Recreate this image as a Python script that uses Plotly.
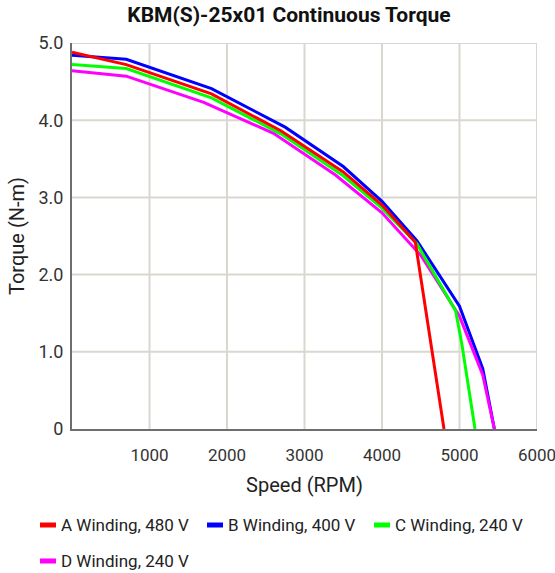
import plotly.graph_objects as go

# ---- data ----
series_names = ["A Winding, 480 V", "B Winding, 400 V", "C Winding, 240 V", "D Winding, 240 V"]
series_colors = ["#ff0000", "#0000ff", "#00ff00", "#ff00ff"]

a_speed = [0, 700, 1800, 2700, 3500, 4000, 4430, 4800]
a_torque = [4.88, 4.72, 4.34, 3.86, 3.33, 2.90, 2.42, 0.0]

b_speed = [0, 700, 1800, 2750, 3500, 4000, 4450, 5000, 5300, 5450]
b_torque = [4.84, 4.79, 4.41, 3.91, 3.40, 2.95, 2.44, 1.59, 0.78, 0.0]

c_speed = [0, 700, 1800, 2700, 3500, 4000, 4450, 4950, 5030, 5200]
c_torque = [4.72, 4.67, 4.29, 3.82, 3.28, 2.86, 2.40, 1.53, 1.10, 0.0]

d_speed = [0, 700, 1700, 2600, 3400, 4000, 4500, 5000, 5300, 5450]
d_torque = [4.64, 4.57, 4.23, 3.83, 3.29, 2.80, 2.25, 1.46, 0.70, 0.0]

x_tickvals = [1000, 2000, 3000, 4000, 5000, 6000]
x_ticktext = ["1000", "2000", "3000", "4000", "5000", "6000"]
y_tickvals = [0, 1, 2, 3, 4, 5]
y_ticktext = ["0", "1.0", "2.0", "3.0", "4.0", "5.0"]

title_text = "KBM(S)-25x01 Continuous Torque"
x_title = "Speed (RPM)"
y_title = "Torque (N-m)"

FONT = "Roboto, sans-serif"
GRID = "#d9d7d0"

series = [
    (a_speed, a_torque),
    (b_speed, b_torque),
    (c_speed, c_torque),
    (d_speed, d_torque),
]
draw_order = [1, 3, 2, 0]

fig = go.Figure()
for i in draw_order:
    sx, sy = series[i]
    fig.add_trace(go.Scatter(
        x=sx, y=sy, mode="lines", name=series_names[i],
        line=dict(color=series_colors[i], width=3),
        showlegend=False, hoverinfo="skip",
    ))

W, H = 555, 573
ml, mr, mt, mb = 72, 18, 43, 144
pw, ph = W - ml - mr, H - mt - mb
def px2paper_x(px):
    return (px - ml) / pw
def px2paper_y(py):
    return (H - mb - py) / ph

shapes = []
annotations = []

# grid lines at the tick values
for xv in x_tickvals:
    shapes.append(dict(type="line", xref="x", yref="paper", x0=xv, x1=xv, y0=0, y1=1,
                       line=dict(color=GRID, width=2), layer="below"))
for yv in y_tickvals[1:]:
    shapes.append(dict(type="line", xref="paper", yref="y", x0=0, x1=1, y0=yv, y1=yv,
                       line=dict(color=GRID, width=2), layer="below"))

# manual legend
legend_pos = [(40, 525), (207, 525), (374, 525), (40, 561)]
for (lx, ly), name, col in zip(legend_pos, series_names, series_colors):
    shapes.append(dict(type="line", xref="paper", yref="paper",
                       x0=px2paper_x(lx), x1=px2paper_x(lx + 16),
                       y0=px2paper_y(ly), y1=px2paper_y(ly),
                       line=dict(color=col, width=5)))
    annotations.append(dict(xref="paper", yref="paper",
                            x=px2paper_x(lx + 19), y=px2paper_y(ly),
                            xanchor="left", yanchor="middle", showarrow=False,
                            text=name, font=dict(family=FONT, size=17, color="#222222")))

fig.update_layout(
    template="none",
    width=W, height=H,
    margin=dict(l=ml, r=mr, t=mt, b=mb, pad=0),
    paper_bgcolor="white", plot_bgcolor="white",
    title=dict(text="<b>" + title_text + "</b>", x=289 / W, xref="container",
               xanchor="center", y=1 - 15 / H, yref="container", yanchor="middle",
               font=dict(family=FONT, size=21, color="#111111")),
    font=dict(family=FONT, size=17, color="#333333"),
    shapes=shapes, annotations=annotations,
    showlegend=False,
)
fig.update_xaxes(
    range=[0, 6000], tickvals=x_tickvals, ticktext=x_ticktext, automargin=False,
    showgrid=False,
    showline=True, linecolor="#6e6e6e", linewidth=2,
    zeroline=False, ticks="", ticklabelstandoff=10, ticklabeloverflow="allow",
    title=dict(text=x_title, standoff=14, font=dict(family=FONT, size=20, color="#222222")),
    tickfont=dict(family=FONT, size=17, color="#333333"),
)
fig.update_yaxes(
    range=[0, 5], tickvals=y_tickvals, ticktext=y_ticktext, automargin=False,
    showgrid=False,
    showline=True, linecolor="#6e6e6e", linewidth=2,
    zeroline=False, ticks="", ticklabelstandoff=3, ticklabeloverflow="allow",
    title=dict(text=y_title, standoff=8, font=dict(family=FONT, size=20, color="#222222")),
    tickfont=dict(family=FONT, size=18, color="#333333"),
)

fig.write_html("out.html", config={"displayModeBar": False},
               post_script="document.body.style.margin='0';document.body.style.padding='0';")
